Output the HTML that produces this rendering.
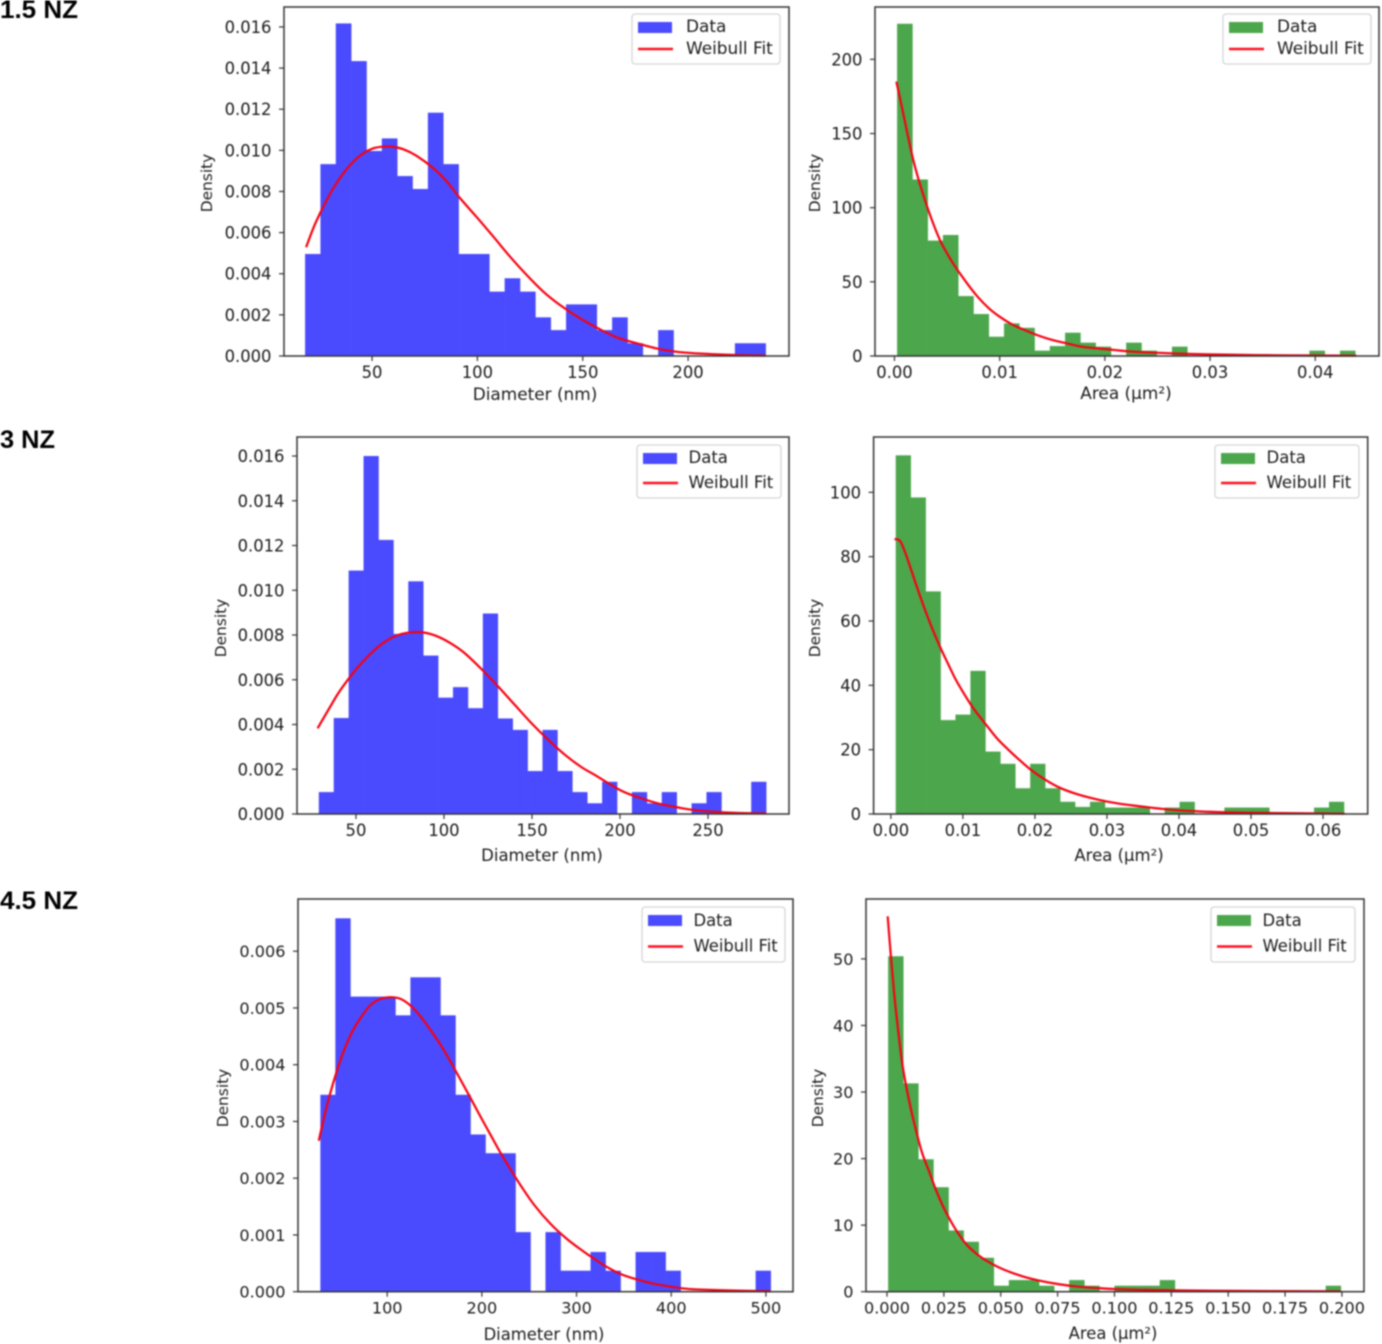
<!DOCTYPE html>
<html lang="en">
<head>
<meta charset="utf-8">
<title>Weibull fits of diameter and area distributions</title>
<style>
  html, body { margin: 0; padding: 0; background: #fff; }
  #figure { display: block; width: 1382px; height: 1344px; filter: blur(0.75px); }
  .tick { font-family: "DejaVu Sans", "Liberation Sans", sans-serif; fill: #1c1c1c; }
  .axis-title.horizontal, .legend-label { font-family: "DejaVu Sans", "Liberation Sans", sans-serif; fill: #1c1c1c; }
  .axis-title.vertical { font-family: "DejaVu Sans", "Liberation Sans", sans-serif; font-size: 15.4px; fill: #1c1c1c; }
  .row-title { font-family: "Liberation Sans", sans-serif; font-weight: bold; font-size: 25px; fill: #000; }
</style>
</head>
<body>
<svg id="figure" xmlns="http://www.w3.org/2000/svg" width="1382" height="1344" viewBox="0 0 1382 1344">
  <rect x="0" y="0" width="1382" height="1344" fill="#fff"></rect>
  <text class="row-title" x="0" y="18" textLength="78" lengthAdjust="spacingAndGlyphs">1.5 NZ</text>
  <text class="row-title" x="0" y="448" textLength="55" lengthAdjust="spacingAndGlyphs">3 NZ</text>
  <text class="row-title" x="0" y="909" textLength="78" lengthAdjust="spacingAndGlyphs">4.5 NZ</text>
</svg>
<script>
// ---------- Panel 1: 1.5 NZ diameter ----------
const p1BinRange = [18.2, 236.8];
const p1Density = [0.00496,0.00933,0.01617,0.01434,0.00997,0.01058,0.00875,0.00812,0.01183,0.00933,0.00496,0.00496,0.00313,0.00378,0.00313,0.00188,0.00126,0.00251,0.00251,0.00126,0.00188,0.00062,0,0.00126,0,0,0,0,0.00062,0.00062];
const p1FitX = [18.7,22.1,25.3,28.5,31.6,36.4,41.1,45.9,50.6,55.4,59.3,64.9,71.2,79.1,85.5,91.8,99.7,107.6,115.5,123.4,131.3,139.2,148.7,157.2,166.5,175.7,185,194.2,203.4,222,236.7];
const p1FitY = [0.00529,0.00621,0.00694,0.00759,0.00816,0.00889,0.00945,0.00986,0.0101,0.01018,0.01018,0.01005,0.00973,0.00913,0.00848,0.00767,0.00675,0.0058,0.00483,0.00394,0.00313,0.00248,0.00183,0.00135,0.00089,0.00062,0.00037,0.00021,0.00013,0.00005,0.00002];
const p1XTicks = ["50","100","150","200"];
const p1YTicks = ["0.000","0.002","0.004","0.006","0.008","0.010","0.012","0.014","0.016"];

// ---------- Panel 2: 1.5 NZ area ----------
const p2BinRange = [0.00025, 0.0438];
const p2Density = [224,119,77.8,81.6,40.4,28.3,13,22,19,3.6,6.7,15.7,9,6.3,0,9,3.6,0,6.3,0,0,0,0,0,0,0,0,3.6,0,3.6];
const p2FitX = [0.00018,0.0007,0.00123,0.00176,0.00229,0.003,0.0037,0.0044,0.0051,0.0058,0.0069,0.0079,0.009,0.01,0.0111,0.0122,0.0136,0.015,0.0164,0.0178,0.0192,0.021,0.0227,0.0263,0.0298,0.0368,0.0439];
const p2FitY = [185,168,150,133,119,103,89,77,68,60,49,40,32,26.5,21.6,18,14,10.8,8.5,6.3,5.2,4,2.9,1.8,1.1,0.45,0.2];
const p2XTicks = ["0.00","0.01","0.02","0.03","0.04"];
const p2YTicks = ["0","50","100","150","200"];

// ---------- Panel 3: 3 NZ diameter ----------
const p3BinRange = [28.9, 283];
const p3Density = [0.00098,0.00429,0.01088,0.016,0.01225,0.00805,0.0104,0.00708,0.0052,0.00567,0.00473,0.00896,0.00427,0.00376,0.00192,0.00376,0.00192,0.00098,0.00048,0.00144,0,0.00098,0.00048,0.00098,0,0.00048,0.00098,0,0,0.00144];
const p3FitX = [28.2,34.3,39.9,45.6,51.3,58.9,66.5,74,81.6,89.2,96.8,104.4,111.9,121.4,130.9,140.3,149.8,159.3,168.8,178.2,185.8,200.5,211.4,222.2,233.1,244,265.7,283];
const p3FitY = [0.00383,0.00465,0.00539,0.00602,0.00658,0.00721,0.0077,0.008,0.00812,0.0081,0.00792,0.0076,0.00718,0.00647,0.00569,0.00487,0.00405,0.00331,0.00264,0.00209,0.00174,0.00105,0.00072,0.00046,0.00029,0.00016,0.00005,0.00003];
const p3XTicks = ["50","100","150","200","250"];
const p3YTicks = ["0.000","0.002","0.004","0.006","0.008","0.010","0.012","0.014","0.016"];

// ---------- Panel 4: 3 NZ area ----------
const p4BinRange = [0.00067, 0.0629];
const p4Density = [111.5,98.4,69.2,29.2,30.9,44.5,19.4,15.6,8,15.6,8,3.8,2.2,3.8,2,2,2,0,2,3.8,0,0,2,2,2,0,0,0,2,3.8];
const p4FitX = [0.0005,0.0013,0.0021,0.0028,0.0039,0.0049,0.0059,0.007,0.008,0.009,0.0101,0.0111,0.0121,0.0132,0.0147,0.0163,0.0178,0.0194,0.0214,0.0235,0.0261,0.0287,0.0312,0.0338,0.039,0.0441,0.0493,0.063];
const p4FitY = [85.5,84.8,80.6,76,68.7,62.5,56.8,51.1,46.4,41.8,37.6,34,30.9,27.8,23.6,20,16.9,13.8,10.7,8.1,6,4.5,3.4,2.6,1.3,0.7,0.4,0.1];
const p4XTicks = ["0.00","0.01","0.02","0.03","0.04","0.05","0.06"];
const p4YTicks = ["0","20","40","60","80","100"];

// ---------- Panel 5: 4.5 NZ diameter ----------
const p5BinRange = [29.4, 505];
const p5Density = [0.00347,0.00658,0.0052,0.0052,0.0052,0.00487,0.00554,0.00554,0.00487,0.00347,0.00277,0.00244,0.00244,0.00105,0,0.00105,0.00037,0.00037,0.0007,0.00037,0,0.0007,0.0007,0.00037,0,0,0,0,0,0.00037];
const p5FitX = [27.7,34.7,41.8,50.6,61.2,71.7,82.3,92.9,103.5,114.1,124.7,135.2,145.8,156.4,167,177.6,188.1,198.7,209.3,219.9,230.5,241.1,255.2,272.8,290.5,308.1,318.7,330.6,346.8,362.9,379,395.2,411.3,427.4,467.7,504.8];
const p5FitY = [0.00266,0.00317,0.00361,0.00408,0.00452,0.00482,0.00505,0.00516,0.00519,0.00516,0.00504,0.00485,0.00461,0.00435,0.00405,0.00373,0.00341,0.00308,0.00276,0.00244,0.00215,0.00187,0.00153,0.00119,0.00092,0.0007,0.00058,0.00045,0.00031,0.00022,0.00015,0.0001,0.00006,0.00004,0.00002,0.00001];
const p5XTicks = ["100","200","300","400","500"];
const p5YTicks = ["0.000","0.001","0.002","0.003","0.004","0.005","0.006"];

// ---------- Panel 6: 4.5 NZ area ----------
const p6BinRange = [0.0005, 0.1995];
const p6Density = [50.4,31.3,19.9,15.7,9.2,7.5,5.1,0.9,1.75,1.75,0.9,0,1.75,0.9,0,0.9,0.9,0.9,1.75,0,0,0,0,0,0,0,0,0,0,0.9];
const p6FitX = [0.0003,0.0016,0.0033,0.0049,0.0065,0.0082,0.0106,0.0131,0.0155,0.0188,0.0221,0.0254,0.0303,0.0352,0.0401,0.045,0.0515,0.0597,0.0679,0.076,0.0842,0.0924,0.1006,0.1169,0.1415,0.1995];
const p6FitY = [56.4,50.9,44.3,39.3,34.8,31.3,27.3,23.8,20.8,17.8,14.8,12.3,9.3,7,5.5,4.4,3.3,2.3,1.6,1.1,0.75,0.55,0.4,0.25,0.15,0.05];
const p6XTicks = ["0.000","0.025","0.050","0.075","0.100","0.125","0.150","0.175","0.200"];
const p6YTicks = ["0","10","20","30","40","50"];

const svgNS = "http://www.w3.org/2000/svg";
const root = document.getElementById("figure");

function make(tag, parent, attrs, text) {
  const el = document.createElementNS(svgNS, tag);
  for (const k in attrs) el.setAttribute(k, attrs[k]);
  if (text !== undefined) el.textContent = text;
  parent.appendChild(el);
  return el;
}

// Smooth Catmull-Rom path through the read curve samples
function smoothPath(P) {
  let d = "M" + P[0][0].toFixed(2) + " " + P[0][1].toFixed(2);
  for (let i = 0; i < P.length - 1; i++) {
    const a = P[Math.max(i - 1, 0)], b = P[i], c = P[i + 1], e = P[Math.min(i + 2, P.length - 1)];
    const c1x = b[0] + (c[0] - a[0]) / 6, c1y = b[1] + (c[1] - a[1]) / 6;
    const c2x = c[0] - (e[0] - b[0]) / 6, c2y = c[1] - (e[1] - b[1]) / 6;
    d += " C" + c1x.toFixed(2) + " " + c1y.toFixed(2) + " " + c2x.toFixed(2) + " " + c2y.toFixed(2) + " " + c[0].toFixed(2) + " " + c[1].toFixed(2);
  }
  return d;
}

function drawPanel(p) {
  const sx = v => p.left + (v - p.xLim[0]) / (p.xLim[1] - p.xLim[0]) * (p.right - p.left);
  const sy = v => p.bottom - (v - p.yLim[0]) / (p.yLim[1] - p.yLim[0]) * (p.bottom - p.top);

  const g = make("g", root, {});
  
  

  // histogram bars
  const binWidth = (p.binRange[1] - p.binRange[0]) / p.density.length;
  p.density.forEach((d, i) => {
    if (d <= 0) return;
    const x0 = sx(p.binRange[0] + i * binWidth);
    const x1 = sx(p.binRange[0] + (i + 1) * binWidth);
    const bar = make("rect", g, { x: x0, y: sy(d), width: x1 - x0 + 0.3, height: sy(0) - sy(d), fill: p.color });
    
    
  });

  // fitted curve
  const pts = p.fitX.map((x, i) => [sx(x), sy(p.fitY[i])]);
  const curve = make("path", g, { d: smoothPath(pts), fill: "none", stroke: "#f60010", "stroke-width": 2.2, "stroke-linejoin": "round" });
  
  

  // frame
  const frame = make("rect", g, { x: p.left, y: p.top, width: p.right - p.left, height: p.bottom - p.top, fill: "none", stroke: "#333", "stroke-width": 1.5 });
  
  

  // x ticks
  p.xTicks.forEach(label => {
    const x = sx(parseFloat(label));
    const tick = make("line", g, { x1: x, x2: x, y1: p.bottom, y2: p.bottom + 5, stroke: "#333", "stroke-width": 1.2 });
    
    
    const t = make("text", g, { class: "tick", x: x, y: p.bottom + 22, "text-anchor": "middle", "font-size": p.tickSize }, label);
    
    
  });

  // y ticks
  p.yTicks.forEach(label => {
    const y = sy(parseFloat(label));
    const tick = make("line", g, { x1: p.left - 5, x2: p.left, y1: y, y2: y, stroke: "#333", "stroke-width": 1.2 });
    
    
    const t = make("text", g, { class: "tick", x: p.left - 12.5, y: y + 6, "text-anchor": "end", "font-size": p.tickSize }, label);
    
    
  });

  // axis titles
  const xt = make("text", g, { class: "axis-title horizontal", x: p.xTitleX, y: p.xTitleY, "text-anchor": "middle", "font-size": p.labelSize }, p.xTitle);
  
  
  const yt = make("text", g, { class: "axis-title vertical", x: p.yTitleX, y: p.yTitleY, "text-anchor": "middle", transform: "rotate(-90 " + p.yTitleX + " " + p.yTitleY + ")", "dominant-baseline": "central" }, "Density");
  
  

  // legend
  const lg = make("g", g, {});
  
  
  const L = p.legend;
  const box = make("rect", lg, { x: L.x, y: L.y, width: L.w, height: L.h, rx: 3, fill: "#fff", stroke: "#d6d6d6", "stroke-width": 1.3 });
  
  
  const sw = make("rect", lg, { x: L.x + 6, y: L.y + 8, width: 34, height: 11, fill: p.color });
  
  
  const t1 = make("text", lg, { class: "legend-label", x: L.x + L.textX, y: L.y + L.dataY, "font-size": p.labelSize }, "Data");
  
  
  const ln = make("line", lg, { x1: L.x + 6, x2: L.x + 41, y1: L.y + L.lineY, y2: L.y + L.lineY, stroke: "#ff1020", "stroke-width": 2.4 });
  
  
  const t2 = make("text", lg, { class: "legend-label", x: L.x + L.textX, y: L.y + L.lineY + 5, "font-size": p.labelSize }, "Weibull Fit");
  
  
}

const BLUE = "#4a4aff", GREEN = "#4ca64c";

drawPanel({ name: "diameter-histogram-1-5-nz", color: BLUE, left: 284, right: 789, top: 7, bottom: 356, tickSize: 16.4, labelSize: 16.9,
  xLim: [8.2, 247.9], yLim: [0, 0.01697], binRange: p1BinRange, density: p1Density, fitX: p1FitX, fitY: p1FitY,
  xTicks: p1XTicks, yTicks: p1YTicks, xTitle: "Diameter (nm)", xTitleX: 535, xTitleY: 400, yTitleX: 207, yTitleY: 183,
  legend: { x: 632, y: 14, w: 148, h: 50, dataY: 18, lineY: 35, textX: 54 } });

drawPanel({ name: "area-histogram-1-5-nz", color: GREEN, left: 875, right: 1379, top: 7, bottom: 356, tickSize: 16.4, labelSize: 16.9,
  xLim: [-0.00185, 0.04606], yLim: [0, 235.3], binRange: p2BinRange, density: p2Density, fitX: p2FitX, fitY: p2FitY,
  xTicks: p2XTicks, yTicks: p2YTicks, xTitle: "Area (µm²)", xTitleX: 1126, xTitleY: 399, yTitleX: 815, yTitleY: 183,
  legend: { x: 1223, y: 14, w: 148, h: 50, dataY: 18, lineY: 35, textX: 54 } });

drawPanel({ name: "diameter-histogram-3-nz", color: BLUE, left: 297, right: 789, top: 437, bottom: 814, tickSize: 16.4, labelSize: 16.5,
  xLim: [16.5, 296], yLim: [0, 0.01685], binRange: p3BinRange, density: p3Density, fitX: p3FitX, fitY: p3FitY,
  xTicks: p3XTicks, yTicks: p3YTicks, xTitle: "Diameter (nm)", xTitleX: 542, xTitleY: 861, yTitleX: 221, yTitleY: 628,
  legend: { x: 637, y: 445, w: 144, h: 53, dataY: 18, lineY: 38, textX: 51.5 } });

drawPanel({ name: "area-histogram-3-nz", color: GREEN, left: 873.6, right: 1367.7, top: 437, bottom: 814, tickSize: 16.4, labelSize: 16.5,
  xLim: [-0.0024, 0.0662], yLim: [0, 117.2], binRange: p4BinRange, density: p4Density, fitX: p4FitX, fitY: p4FitY,
  xTicks: p4XTicks, yTicks: p4YTicks, xTitle: "Area (µm²)", xTitleX: 1119, xTitleY: 861, yTitleX: 815, yTitleY: 628,
  legend: { x: 1215, y: 445, w: 144, h: 53, dataY: 18, lineY: 38, textX: 51.5 } });

drawPanel({ name: "diameter-histogram-4-5-nz", color: BLUE, left: 298, right: 793, top: 899, bottom: 1291.7, tickSize: 16.1, labelSize: 16.4,
  xLim: [5.8, 528.6], yLim: [0, 0.00692], binRange: p5BinRange, density: p5Density, fitX: p5FitX, fitY: p5FitY,
  xTicks: p5XTicks, yTicks: p5YTicks, xTitle: "Diameter (nm)", xTitleX: 544, xTitleY: 1340, yTitleX: 223, yTitleY: 1098,
  legend: { x: 642, y: 907, w: 143, h: 55, dataY: 19, lineY: 39.5, textX: 51.5 } });

drawPanel({ name: "area-histogram-4-5-nz", color: GREEN, left: 866, right: 1364, top: 899, bottom: 1291.7, tickSize: 16.1, labelSize: 16.4,
  xLim: [-0.00923, 0.2097], yLim: [0, 59], binRange: p6BinRange, density: p6Density, fitX: p6FitX, fitY: p6FitY,
  xTicks: p6XTicks, yTicks: p6YTicks, xTitle: "Area (µm²)", xTitleX: 1113, xTitleY: 1339, yTitleX: 818, yTitleY: 1098,
  legend: { x: 1211, y: 907, w: 144, h: 55, dataY: 19, lineY: 39.5, textX: 51.5 } });
</script>
</body>
</html>
